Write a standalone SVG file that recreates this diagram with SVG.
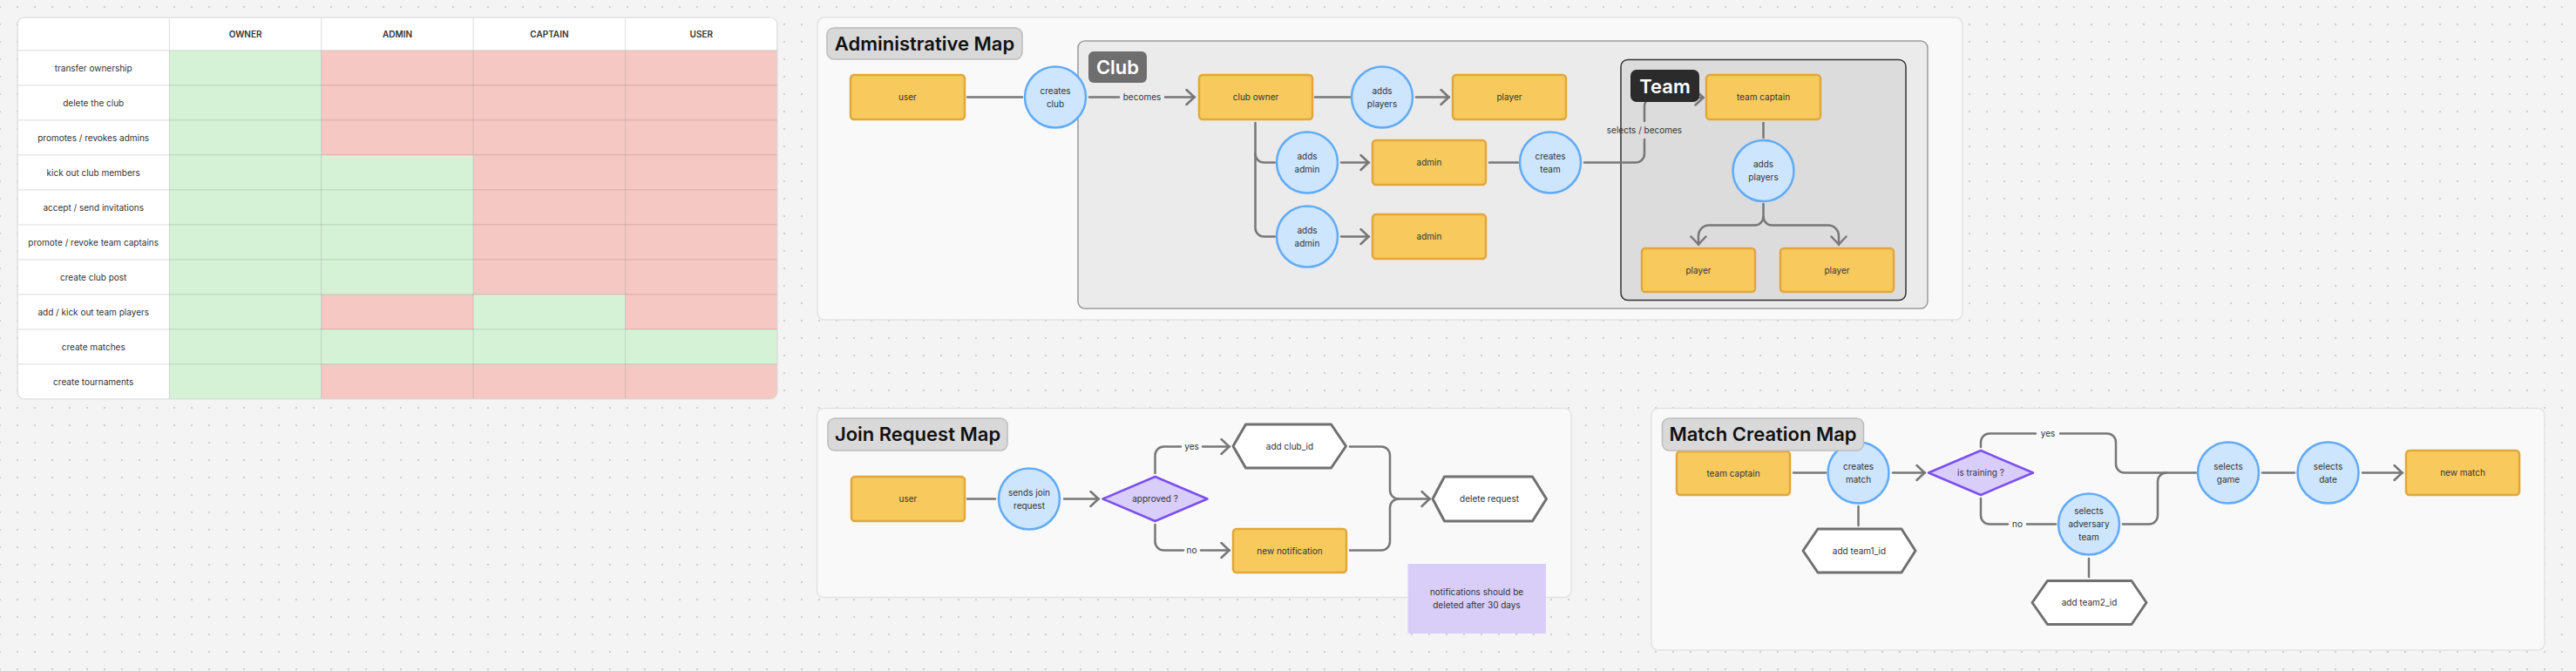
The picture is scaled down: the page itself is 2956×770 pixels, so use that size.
<svg xmlns="http://www.w3.org/2000/svg" width="2956" height="770" viewBox="0 0 2956 770">
<defs>
<pattern id="dots" x="-10" y="-2" width="20" height="20" patternUnits="userSpaceOnUse"><circle cx="10" cy="10" r="1.1" fill="#c6c6c6"/></pattern>
<marker id="ah" viewBox="0 0 12 20" refX="11" refY="10" markerWidth="12" markerHeight="20" markerUnits="userSpaceOnUse" orient="auto"><path d="M1.5,1.5 L10.5,10 L1.5,18.5" fill="none" stroke="#777" stroke-width="2.5" stroke-linecap="round" stroke-linejoin="round"/></marker>
<clipPath id="tclip"><rect x="20" y="20" width="872" height="438" rx="8"/></clipPath>
<style>
.box{fill:#f8ca5e;stroke:#e2a63a;stroke-width:2.5}
.circ{fill:#cde5fd;stroke:#62abf6;stroke-width:2.5}
.hex{fill:#fff;stroke:#707070;stroke-width:3;stroke-linejoin:round}
.dia{fill:#d9cdfa;stroke:#7c4ff0;stroke-width:2.5;stroke-linejoin:round}
.ln{fill:none;stroke:#777;stroke-width:2.5;stroke-linecap:round}
.arr{marker-end:url(#ah)}
.cont{fill:#f9f9f9;stroke:#e2e2e2;stroke-width:1.5}
.ttl{fill:#d9d9d9;stroke:#bcbcbc;stroke-width:1.5}
.t{font-family:Inter,"Liberation Sans",sans-serif;font-size:10px;fill:#333;text-anchor:middle}
.th{font-family:Inter,"Liberation Sans",sans-serif;font-size:10px;font-weight:600;fill:#333;text-anchor:middle}
.big{font-family:Inter,"Liberation Sans",sans-serif;font-size:22px;font-weight:600;fill:#111;text-anchor:middle}
.wbig{font-family:Inter,"Liberation Sans",sans-serif;font-size:22px;font-weight:600;fill:#fff;text-anchor:middle}
.g{fill:#d5f2d7;stroke:rgba(0,0,0,0.09);stroke-width:1}
.r{fill:#f6c8c3;stroke:rgba(0,0,0,0.09);stroke-width:1}
.w{fill:#fff;stroke:#e3e3e3;stroke-width:1}
</style>
</defs>
<rect width="2956" height="770" fill="#f4f4f4"/>
<rect width="2956" height="770" fill="url(#dots)"/>

<!-- Permissions table -->
<g id="permissions-table">
<rect x="20" y="20" width="872" height="438" rx="8" fill="#fff"/>
<g clip-path="url(#tclip)">
<rect class="w" x="20" y="20" width="174.4" height="38"/>
<rect class="w" x="194.4" y="20" width="174.4" height="38"/>
<rect class="w" x="368.8" y="20" width="174.4" height="38"/>
<rect class="w" x="543.2" y="20" width="174.4" height="38"/>
<rect class="w" x="717.6" y="20" width="174.4" height="38"/>
<!-- row label column -->
<rect class="w" x="20" y="58" width="174.4" height="40"/>
<rect class="w" x="20" y="98" width="174.4" height="40"/>
<rect class="w" x="20" y="138" width="174.4" height="40"/>
<rect class="w" x="20" y="178" width="174.4" height="40"/>
<rect class="w" x="20" y="218" width="174.4" height="40"/>
<rect class="w" x="20" y="258" width="174.4" height="40"/>
<rect class="w" x="20" y="298" width="174.4" height="40"/>
<rect class="w" x="20" y="338" width="174.4" height="40"/>
<rect class="w" x="20" y="378" width="174.4" height="40"/>
<rect class="w" x="20" y="418" width="174.4" height="40"/>
<!-- row 1 -->
<rect class="g" x="194.4" y="58" width="174.4" height="40"/><rect class="r" x="368.8" y="58" width="174.4" height="40"/><rect class="r" x="543.2" y="58" width="174.4" height="40"/><rect class="r" x="717.6" y="58" width="174.4" height="40"/>
<!-- row 2 -->
<rect class="g" x="194.4" y="98" width="174.4" height="40"/><rect class="r" x="368.8" y="98" width="174.4" height="40"/><rect class="r" x="543.2" y="98" width="174.4" height="40"/><rect class="r" x="717.6" y="98" width="174.4" height="40"/>
<!-- row 3 -->
<rect class="g" x="194.4" y="138" width="174.4" height="40"/><rect class="r" x="368.8" y="138" width="174.4" height="40"/><rect class="r" x="543.2" y="138" width="174.4" height="40"/><rect class="r" x="717.6" y="138" width="174.4" height="40"/>
<!-- row 4 -->
<rect class="g" x="194.4" y="178" width="174.4" height="40"/><rect class="g" x="368.8" y="178" width="174.4" height="40"/><rect class="r" x="543.2" y="178" width="174.4" height="40"/><rect class="r" x="717.6" y="178" width="174.4" height="40"/>
<!-- row 5 -->
<rect class="g" x="194.4" y="218" width="174.4" height="40"/><rect class="g" x="368.8" y="218" width="174.4" height="40"/><rect class="r" x="543.2" y="218" width="174.4" height="40"/><rect class="r" x="717.6" y="218" width="174.4" height="40"/>
<!-- row 6 -->
<rect class="g" x="194.4" y="258" width="174.4" height="40"/><rect class="g" x="368.8" y="258" width="174.4" height="40"/><rect class="r" x="543.2" y="258" width="174.4" height="40"/><rect class="r" x="717.6" y="258" width="174.4" height="40"/>
<!-- row 7 -->
<rect class="g" x="194.4" y="298" width="174.4" height="40"/><rect class="g" x="368.8" y="298" width="174.4" height="40"/><rect class="r" x="543.2" y="298" width="174.4" height="40"/><rect class="r" x="717.6" y="298" width="174.4" height="40"/>
<!-- row 8 -->
<rect class="g" x="194.4" y="338" width="174.4" height="40"/><rect class="r" x="368.8" y="338" width="174.4" height="40"/><rect class="g" x="543.2" y="338" width="174.4" height="40"/><rect class="r" x="717.6" y="338" width="174.4" height="40"/>
<!-- row 9 -->
<rect class="g" x="194.4" y="378" width="174.4" height="40"/><rect class="g" x="368.8" y="378" width="174.4" height="40"/><rect class="g" x="543.2" y="378" width="174.4" height="40"/><rect class="g" x="717.6" y="378" width="174.4" height="40"/>
<!-- row 10 -->
<rect class="g" x="194.4" y="418" width="174.4" height="40"/><rect class="r" x="368.8" y="418" width="174.4" height="40"/><rect class="r" x="543.2" y="418" width="174.4" height="40"/><rect class="r" x="717.6" y="418" width="174.4" height="40"/>
</g>
<rect x="20" y="20" width="872" height="438" rx="8" fill="none" stroke="#dcdcdc" stroke-width="1.2"/>
<text class="th" x="281.6" y="42.5">OWNER</text>
<text class="th" x="456" y="42.5">ADMIN</text>
<text class="th" x="630.4" y="42.5">CAPTAIN</text>
<text class="th" x="804.8" y="42.5">USER</text>
<text class="t" x="107.2" y="81.5">transfer ownership</text>
<text class="t" x="107.2" y="121.5">delete the club</text>
<text class="t" x="107.2" y="161.5">promotes / revokes admins</text>
<text class="t" x="107.2" y="201.5">kick out club members</text>
<text class="t" x="107.2" y="241.5">accept / send invitations</text>
<text class="t" x="107.2" y="281.5">promote / revoke team captains</text>
<text class="t" x="107.2" y="321.5">create club post</text>
<text class="t" x="107.2" y="361.5">add / kick out team players</text>
<text class="t" x="107.2" y="401.5">create matches</text>
<text class="t" x="107.2" y="441.5">create tournaments</text>
</g>

<!-- Administrative Map containers -->
<g id="admin-map">
<rect class="cont" x="938" y="20" width="1314" height="347" rx="8"/>
<rect class="ttl" x="949" y="32" width="224" height="36" rx="8"/>
<text class="big" x="1061" y="58">Administrative Map</text>
</g>
<g id="club-group">
<rect x="1237" y="47" width="975" height="307" rx="8" fill="#ebebeb" stroke="#9a9a9a" stroke-width="1.5"/>
<rect x="1249" y="59" width="67" height="36" rx="6" fill="#6e6e6e"/>
<text class="wbig" x="1282.5" y="85">Club</text>
</g>
<g id="team-group">
<rect x="1860" y="68.5" width="327" height="276" rx="8" fill="#dcdcdc" stroke="#333" stroke-width="1.5"/>
</g>

<!-- Join Request Map container -->
<g id="join-map">
<rect class="cont" x="937.5" y="468.5" width="865.5" height="217" rx="8"/>
<rect class="ttl" x="950" y="480" width="206" height="37" rx="8"/>
<text class="big" x="1053" y="506">Join Request Map</text>
</g>

<!-- Match Creation Map container -->
<g id="match-map">
<rect class="cont" x="1895" y="468.5" width="1025" height="277.5" rx="8"/>
</g>

<!-- Connectors -->
<g id="connectors">
<path class="ln" d="M1110 111.5 H1173"/>
<path class="ln" d="M1250 111.5 H1284"/>
<path class="ln arr" d="M1337 111.5 H1371"/>
<text class="t" x="1310.5" y="115">becomes</text>
<path class="ln" d="M1509 111.5 H1551"/>
<path class="ln arr" d="M1625 111.5 H1663"/>
<path class="ln" d="M1440.5 141 V261.5 A10 10 0 0 0 1450.5 271.5 H1463"/>
<path class="ln" d="M1440.5 176.5 A10 10 0 0 0 1450.5 186.5 H1463"/>
<path class="ln arr" d="M1539 186.5 H1571"/>
<path class="ln arr" d="M1539 271.5 H1571"/>
<path class="ln" d="M1709 186.5 H1742"/>
<path class="ln" d="M1818 186.5 H1877 A10 10 0 0 0 1887 176.5 V160"/>
<path class="ln arr" d="M1887 139 V122 A10 10 0 0 1 1897 112 H1955"/>
<text class="t" x="1887" y="153">selects / becomes</text>
<path class="ln" d="M2023.5 141 V158"/>
<path class="ln arr" d="M2023.5 234 V248.5 A10 10 0 0 1 2013.5 258.5 H1961 A12 12 0 0 0 1949 270.5 V281"/>
<path class="ln arr" d="M2023.5 248.5 A10 10 0 0 0 2033.5 258.5 H2098 A12 12 0 0 1 2110 270.5 V281"/>

<path class="ln" d="M1110 572.5 H1142"/>
<path class="ln arr" d="M1221 572.5 H1261"/>
<path class="ln" d="M1325.5 543 V522.5 A10 10 0 0 1 1335.5 512.5 H1355"/>
<path class="ln arr" d="M1380 512.5 H1411"/>
<text class="t" x="1367.5" y="516">yes</text>
<path class="ln" d="M1325.5 602 V621.5 A10 10 0 0 0 1335.5 631.5 H1358"/>
<path class="ln arr" d="M1378 631.5 H1411"/>
<text class="t" x="1367.5" y="635">no</text>
<path class="ln arr" d="M1549 512.5 H1585 A10 10 0 0 1 1595 522.5 V562.5 A10 10 0 0 0 1605 572.5 H1641"/>
<path class="ln" d="M1549 631.5 H1585 A10 10 0 0 0 1595 621.5 V582.5 A10 10 0 0 1 1605 572.5"/>

<path class="ln" d="M2058 542.5 H2095"/>
<path class="ln" d="M2132.5 581 V603"/>
<path class="ln arr" d="M2172 542.5 H2209"/>
<path class="ln" d="M2273 513 V507.5 A10 10 0 0 1 2283 497.5 H2336"/>
<path class="ln" d="M2364 497.5 H2418 A10 10 0 0 1 2428 507.5 V532.5 A10 10 0 0 0 2438 542.5 H2520"/>
<text class="t" x="2350" y="501">yes</text>
<path class="ln" d="M2273 572 V591.5 A10 10 0 0 0 2283 601.5 H2304"/>
<path class="ln" d="M2326 601.5 H2359"/>
<text class="t" x="2315" y="605">no</text>
<path class="ln" d="M2436 601.5 H2466 A10 10 0 0 0 2476 591.5 V552.5 A10 10 0 0 1 2486 542.5"/>
<path class="ln" d="M2397 641 V662"/>
<path class="ln" d="M2596 542.5 H2633"/>
<path class="ln arr" d="M2711 542.5 H2757"/>
</g>

<!-- Admin nodes -->
<g id="admin-user"><rect class="box" x="976" y="86" width="131" height="51" rx="4"/><text class="t" x="1041.5" y="115">user</text></g>
<g id="creates-club"><circle class="circ" cx="1211" cy="111.5" r="35"/><text class="t" x="1211" y="107.5">creates</text><text class="t" x="1211" y="122.5">club</text></g>
<g id="club-owner"><rect class="box" x="1376" y="86" width="130" height="51" rx="4"/><text class="t" x="1441" y="115">club owner</text></g>
<g id="adds-players-club"><circle class="circ" cx="1586" cy="111.5" r="35"/><text class="t" x="1586" y="107.5">adds</text><text class="t" x="1586" y="122.5">players</text></g>
<g id="club-player"><rect class="box" x="1667" y="86" width="130" height="51" rx="4"/><text class="t" x="1732" y="115">player</text></g>
<g id="adds-admin-1"><circle class="circ" cx="1500" cy="186.5" r="35"/><text class="t" x="1500" y="182.5">adds</text><text class="t" x="1500" y="197.5">admin</text></g>
<g id="adds-admin-2"><circle class="circ" cx="1500" cy="271.5" r="35"/><text class="t" x="1500" y="267.5">adds</text><text class="t" x="1500" y="282.5">admin</text></g>
<g id="admin-1"><rect class="box" x="1575" y="161" width="130" height="51" rx="4"/><text class="t" x="1640" y="190">admin</text></g>
<g id="admin-2"><rect class="box" x="1575" y="246" width="130" height="51" rx="4"/><text class="t" x="1640" y="275">admin</text></g>
<g id="creates-team"><circle class="circ" cx="1779" cy="186.5" r="35"/><text class="t" x="1779" y="182.5">creates</text><text class="t" x="1779" y="197.5">team</text></g>
<g id="team-label"><rect x="1871" y="80" width="79" height="37" rx="7" fill="#2b2b2b"/><text class="wbig" x="1910.5" y="106.5">Team</text></g>
<g id="team-captain"><rect class="box" x="1958" y="86" width="131" height="51" rx="4"/><text class="t" x="2023.5" y="115">team captain</text></g>
<g id="adds-players-team"><circle class="circ" cx="2023.5" cy="196" r="35"/><text class="t" x="2023.5" y="192">adds</text><text class="t" x="2023.5" y="207">players</text></g>
<g id="team-player-1"><rect class="box" x="1884" y="285" width="130" height="50" rx="4"/><text class="t" x="1949" y="313.5">player</text></g>
<g id="team-player-2"><rect class="box" x="2043" y="285" width="130" height="50" rx="4"/><text class="t" x="2108" y="313.5">player</text></g>

<!-- Join nodes -->
<g id="join-user"><rect class="box" x="977" y="547" width="130" height="51" rx="4"/><text class="t" x="1042" y="576">user</text></g>
<g id="sends-join"><circle class="circ" cx="1181" cy="572.5" r="35"/><text class="t" x="1181" y="568.5">sends join</text><text class="t" x="1181" y="583.5">request</text></g>
<g id="approved"><polygon class="dia" points="1265.5,572.5 1325.5,547 1385.5,572.5 1325.5,598"/><text class="t" x="1325.5" y="576">approved ?</text></g>
<g id="add-club-id"><polygon class="hex" points="1415,512 1429.5,487 1527.5,487 1544.5,512 1527.5,537 1429.5,537"/><text class="t" x="1480" y="515.5">add club_id</text></g>
<g id="new-notification"><rect class="box" x="1415" y="607" width="130" height="50" rx="4"/><text class="t" x="1480" y="635.5">new notification</text></g>
<g id="delete-request"><polygon class="hex" points="1644,572.5 1657.5,547 1758.5,547 1774.5,572.5 1758.5,598 1657.5,598"/><text class="t" x="1709" y="576">delete request</text></g>
<g id="note"><rect x="1615.5" y="647" width="158.5" height="80" fill="#d9cef8"/><text class="t" x="1694.5" y="683">notifications should be</text><text class="t" x="1694.5" y="698">deleted after 30 days</text></g>

<!-- Match nodes -->
<g id="match-team-captain"><rect class="box" x="1924" y="518" width="130" height="50" rx="4"/><text class="t" x="1989" y="546.5">team captain</text></g>
<g id="creates-match"><circle class="circ" cx="2132.5" cy="542.5" r="35"/><text class="t" x="2132.5" y="538.5">creates</text><text class="t" x="2132.5" y="553.5">match</text></g>
<g id="match-title"><rect class="ttl" x="1907.5" y="480" width="231" height="37" rx="8"/><text class="big" x="2023" y="506">Match Creation Map</text></g>
<g id="add-team1"><polygon class="hex" points="2069,632 2086,607 2182,607 2198,632 2182,657 2086,657"/><text class="t" x="2133.5" y="635.5">add team1_id</text></g>
<g id="is-training"><polygon class="dia" points="2213,542.5 2273,517 2333,542.5 2273,568"/><text class="t" x="2273" y="546">is training ?</text></g>
<g id="adversary"><circle class="circ" cx="2397" cy="601.5" r="35"/><text class="t" x="2397" y="590">selects</text><text class="t" x="2397" y="605">adversary</text><text class="t" x="2397" y="620">team</text></g>
<g id="add-team2"><polygon class="hex" points="2332,691.5 2349.5,666.5 2446,666.5 2463,691.5 2446,716.5 2349.5,716.5"/><text class="t" x="2397.5" y="695">add team2_id</text></g>
<g id="selects-game"><circle class="circ" cx="2557" cy="542.5" r="35"/><text class="t" x="2557" y="538.5">selects</text><text class="t" x="2557" y="553.5">game</text></g>
<g id="selects-date"><circle class="circ" cx="2671.5" cy="542.5" r="35"/><text class="t" x="2671.5" y="538.5">selects</text><text class="t" x="2671.5" y="553.5">date</text></g>
<g id="new-match"><rect class="box" x="2761" y="517" width="130" height="51" rx="4"/><text class="t" x="2826" y="546">new match</text></g>
</svg>
